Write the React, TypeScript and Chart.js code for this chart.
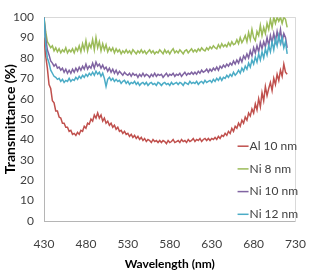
import React, { useEffect, useRef } from "react";
import { Chart, registerables } from "chart.js";

Chart.register(...registerables);

// Wavelength samples, 2 nm apart from 430 nm to 720 nm
const wavelengths: number[] = Array.from({ length: 146 }, (_, i) => 430 + 2 * i);

const seriesNames = ["Al 10 nm", "Ni 8 nm", "Ni 10 nm", "Ni 12 nm"];
const seriesColors = ["#c0504d", "#9bbb59", "#8064a2", "#4bacc6"];

// Transmittance (%) of each film, ten samples per row (20 nm)
const al10: number[] = [
  90, 81, 75, 67, 65, 59, 58, 54, 54, 51,
  50.5, 48, 48, 46, 46, 44, 44.5, 42.5, 43, 42,
  43.5, 42.5, 44.5, 44, 46.5, 45.5, 48, 47.5, 50, 49,
  52, 50.5, 53, 50.5, 52, 49, 50.5, 48, 49, 47,
  48, 46, 47, 45, 46, 44, 44.5, 43, 44, 42.5,
  43, 41.5, 42.5, 41, 42, 40.5, 41.5, 40, 41, 39.5,
  40.5, 39, 40, 39.5, 38.5, 40, 39, 39.5, 38.5, 39.5,
  38.5, 39.5, 39, 38, 39.5, 38.5, 39, 40, 38.5, 39,
  39.5, 38.5, 40, 39, 39.5, 38.5, 40, 39, 39.5, 40.5,
  39, 40, 39.5, 40.5, 39, 40, 40.5, 39.5, 40.5, 39.5,
  40.5, 40, 41, 40, 41.5, 40.5, 42, 41.5, 43, 42,
  44, 43, 45.5, 44, 46.5, 45.5, 48, 46.5, 49.5, 48,
  51, 49.5, 53, 51.5, 55, 53, 57.5, 54.5, 60, 56,
  63, 59, 66, 61.5, 65, 68, 64, 70, 67, 72,
  69, 74, 71, 77, 73, 72,
];
const ni8: number[] = [
  100, 93, 88, 86.5, 85, 86, 83.5, 85, 83, 84.5,
  82.5, 84, 83, 85, 82.5, 84, 83, 84.5, 82.5, 85,
  83.5, 86, 83, 87, 84, 88.5, 83.5, 87, 85, 89,
  84, 90, 85, 88, 83.5, 87, 84, 86.5, 83, 85,
  83.5, 85, 82.5, 84.5, 83, 84, 82, 83.5, 82.5, 84,
  82.5, 83.5, 82, 84, 83, 82, 83.5, 82.5, 84, 82.5,
  83.5, 82, 83, 84, 82.5, 83.5, 82, 83, 82.5, 84,
  83, 82, 84, 82.5, 83.5, 82, 83.5, 84.5, 82.5, 83.5,
  82.5, 84, 83, 82, 83.5, 84, 82.5, 83.5, 84.5, 83,
  84, 83, 84.5, 83.5, 85, 84, 83.5, 85, 84, 85.5,
  84.5, 86, 85, 84.5, 86.5, 85, 87, 85.5, 86.5, 85.5,
  87.5, 86, 88, 86.5, 87, 89, 87, 90, 87.5, 89,
  91, 88, 92.5, 89, 94, 90, 88.5, 93, 91, 96,
  91, 95, 92, 97, 94, 99, 95, 100, 97, 100,
  98, 100, 97, 100, 99, 95,
];
const ni10: number[] = [
  100, 90, 84, 81.5, 78.5, 77.5, 76, 77, 75, 75.5,
  74, 75, 73, 74.5, 72.5, 74, 72.5, 74.5, 73, 75,
  73.5, 75.5, 74, 76, 74.5, 77, 74.5, 76, 75, 77.5,
  75, 78, 76, 77, 75, 76.5, 74.5, 75.5, 73.5, 75,
  73, 74.5, 72.5, 74, 72, 73.5, 72.5, 71.5, 73, 72,
  71.5, 72.5, 71, 72.5, 71.5, 72, 70.5, 72, 71, 72.5,
  71, 72, 71.5, 70.5, 72, 71, 72.5, 71, 72, 71.5,
  72, 70.5, 71.5, 72.5, 71, 72, 71.5, 72.5, 71, 72,
  71.5, 72.5, 71, 72, 73, 71.5, 72.5, 72, 73, 72,
  73, 72, 73.5, 72.5, 74, 73, 73.5, 74.5, 73, 74.5,
  73.5, 75, 74, 75.5, 74, 76, 75, 76.5, 75.5, 77,
  76, 77.5, 76.5, 78.5, 77, 79, 77.5, 80, 78, 81,
  79.5, 82, 80, 83.5, 81, 85, 82.5, 86, 83, 87.5,
  84.5, 88, 85.5, 90, 86, 91, 87.5, 92, 88, 93,
  89, 94, 88, 92, 90, 85,
];
const ni12: number[] = [
  100, 86, 80, 77.5, 74, 72.5, 71, 70.5, 69.5, 70,
  68.5, 69.5, 68, 69, 68.5, 70, 68.5, 69.5, 69, 70.5,
  69.5, 71, 70, 71.5, 70.5, 72, 71, 72.5, 71.5, 73,
  71.5, 73.5, 72, 73, 71, 72.5, 70, 66, 69.5, 70.5,
  69, 70, 68.5, 69.5, 68.5, 69, 67.5, 68.5, 69, 67.5,
  68.5, 67, 68, 67.5, 68.5, 67, 68, 66.5, 67.5, 68,
  67, 68, 66.5, 67.5, 68, 67, 67.5, 66.5, 68, 67.5,
  66.5, 67.5, 68, 67, 67.5, 66.5, 68, 67, 67.5, 68,
  67, 68, 67.5, 66.5, 68, 67.5, 67, 68.5, 67.5, 68,
  67.5, 68.5, 67, 68, 68.5, 67.5, 69, 68, 68.5, 69,
  68, 69.5, 68.5, 70, 69, 70.5, 69, 70.5, 70, 71.5,
  70.5, 72, 71, 73, 71.5, 72.5, 74, 72.5, 75, 73.5,
  76, 74.5, 77.5, 75.5, 79, 77, 80.5, 78, 82, 79,
  83, 80, 84.5, 81.5, 86, 83, 88, 84, 89.5, 86,
  91, 87, 90, 85, 88, 82,
];
const seriesValues = [al10, ni8, ni10, ni12];

const FONT = "Lato, 'Open Sans', sans-serif";
const TEXT = "#404040";

// Plot frame: darker left/bottom axes, light top/right edges
const framePlugin = {
  id: "frame",
  beforeDatasetsDraw(chart: any) {
    const { ctx, chartArea: a } = chart;
    ctx.save();
    ctx.lineWidth = 1;
    ctx.strokeStyle = "#d9d9d9";
    ctx.beginPath();
    ctx.moveTo(a.left, Math.round(a.top) + 0.5);
    ctx.lineTo(a.right, Math.round(a.top) + 0.5);
    ctx.moveTo(Math.round(a.right) - 0.5, a.top);
    ctx.lineTo(Math.round(a.right) - 0.5, a.bottom);
    ctx.stroke();
    ctx.strokeStyle = "#b5b5b5";
    ctx.beginPath();
    ctx.moveTo(Math.round(a.left) + 0.5, a.top);
    ctx.lineTo(Math.round(a.left) + 0.5, a.bottom);
    ctx.moveTo(a.left, Math.round(a.bottom) + 0.5);
    ctx.lineTo(a.right, Math.round(a.bottom) + 0.5);
    ctx.stroke();
    ctx.restore();
  },
};

// Legend stacked inside the lower right of the plot
const insideLegend = {
  id: "insideLegend",
  afterDraw(chart: any) {
    const { ctx, chartArea: a } = chart;
    ctx.save();
    ctx.font = `12px ${FONT}`;
    ctx.textBaseline = "middle";
    ctx.textAlign = "left";
    chart.data.datasets.forEach((ds: any, i: number) => {
      const y = a.top + 129 + i * 22.7;
      const x0 = a.right - 58;
      ctx.strokeStyle = ds.borderColor;
      ctx.lineWidth = 1.5;
      ctx.beginPath();
      ctx.moveTo(x0, y);
      ctx.lineTo(x0 + 11, y);
      ctx.stroke();
      ctx.fillStyle = TEXT;
      ctx.fillText(ds.label, x0 + 12, y);
    });
    ctx.restore();
  },
};

export default function App() {
  const canvasRef = useRef<HTMLCanvasElement | null>(null);

  useEffect(() => {
    if (!canvasRef.current) return;
    const datasets = seriesNames.map((name, s) => ({
      label: name,
      data: wavelengths.map((w, i) => ({ x: w, y: seriesValues[s][i] })),
      borderColor: seriesColors[s],
      backgroundColor: seriesColors[s],
      borderWidth: 1.5,
      pointRadius: 0,
      tension: 0,
      fill: false,
      order: 3 - s,
    }));

    const chart = new Chart(canvasRef.current, {
      type: "line",
      data: { datasets },
      options: {
        animation: false,
        responsive: false,
        layout: { padding: { top: 12, right: 14, left: 0, bottom: 0 } },
        plugins: {
          legend: { display: false },
          tooltip: { enabled: false },
        },
        scales: {
          x: {
            type: "linear",
            min: 430,
            max: 730,
            grid: { display: false, drawTicks: false },
            border: { display: false },
            ticks: {
              stepSize: 50,
              padding: 16,
              color: TEXT,
              font: { family: FONT, size: 12 },
              maxRotation: 0,
            },
            title: {
              display: true,
              text: "Wavelength (nm)",
              color: "#000",
              font: { family: FONT, size: 12, weight: "bold" },
              padding: { top: 0, bottom: 1 },
            },
            afterFit(scale: any) {
              scale.height = 51;
            },
          },
          y: {
            min: 0,
            max: 100,
            grid: { display: false, drawTicks: false },
            border: { display: false },
            ticks: {
              stepSize: 10,
              padding: 10,
              color: TEXT,
              font: { family: FONT, size: 12 },
            },
            title: {
              display: true,
              text: "Transmittance (%)",
              color: "#000",
              font: { family: FONT, size: 14, weight: "bold" },
              padding: { top: 2, bottom: 0 },
            },
            afterFit(scale: any) {
              scale.width = 44;
            },
          },
        },
      },
      plugins: [framePlugin, insideLegend],
    });
    return () => chart.destroy();
  }, []);

  return (
    <div style={{ position: "fixed", left: 0, top: 0, width: 322, height: 272, background: "#fff" }}>
      <canvas ref={canvasRef} width={322} height={272} />
    </div>
  );
}
